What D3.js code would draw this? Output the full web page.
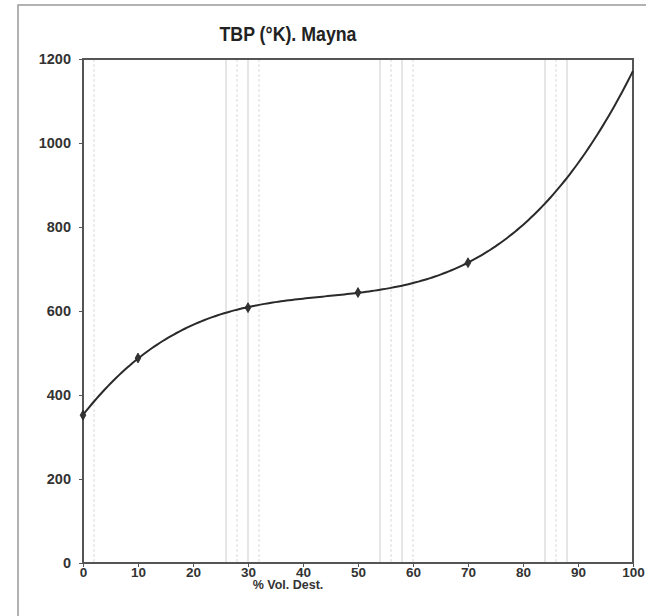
<!DOCTYPE html>
<html>
<head>
<meta charset="utf-8">
<script src="https://cdn.jsdelivr.net/npm/d3@7"></script>
<style>
  body { margin: 0; background: #fff; }
  svg { display: block; font-family: Arial, "Liberation Sans", sans-serif; }
</style>
</head>
<body>
<div id="chart"></div>
<script>
const volPct = [0, 10, 30, 50, 70];
const tbpK = [352, 488, 608, 644, 715];
const xTicks = [0, 10, 20, 30, 40, 50, 60, 70, 80, 90, 100];
const yTicks = [0, 200, 400, 600, 800, 1000, 1200];
// lineas verticales tenues del escaneo (en % vol)
const scanLines = [2, 26, 28, 30, 32, 54, 56, 58, 60, 84, 86, 88];

const W = 646, H = 616;
const margin = {left: 83, top: 59, right: 13, bottom: 53};

const svg = d3.select('#chart').append('svg')
    .attr('width', W)
    .attr('height', H);

// marco exterior
svg.append('rect')
    .attr('x', 18).attr('y', 5)
    .attr('width', 660).attr('height', 640)
    .attr('fill', 'none')
    .attr('stroke', '#999')
    .attr('stroke-width', 1.5);

const x = d3.scaleLinear().domain([0, 100]).range([margin.left, W - margin.right]);
const y = d3.scaleLinear().domain([0, 1200]).range([H - margin.bottom, margin.top]);

// lineas de escaneo
svg.selectAll('.scan')
    .data(scanLines)
    .enter()
    .append('line')
    .attr('x1', d => x(d)).attr('x2', d => x(d))
    .attr('y1', y(1200)).attr('y2', y(0))
    .attr('stroke', (d, i) => i % 2 ? '#cccccc' : '#dadada')
    .attr('stroke-width', 1)
    .attr('stroke-dasharray', (d, i) => i % 2 ? null : '3,2');

// titulo
svg.append('text')
    .attr('x', 288).attr('y', 41)
    .attr('text-anchor', 'middle')
    .attr('font-size', 20)
    .attr('font-weight', 'bold')
    .attr('fill', '#222')
    .attr('textLength', 137)
    .attr('lengthAdjust', 'spacingAndGlyphs')
    .text('TBP (°K). Mayna');

// ejes
const xAxis = svg.append('g')
    .attr('transform', `translate(0,${y(0)})`)
    .call(d3.axisBottom(x).tickValues(xTicks).tickSize(4).tickPadding(0).tickFormat(d3.format('d')));
const yAxis = svg.append('g')
    .attr('transform', `translate(${x(0)},0)`)
    .call(d3.axisLeft(y).tickValues(yTicks).tickSize(4).tickPadding(8).tickFormat(d3.format('d')));

[xAxis, yAxis].forEach(g => {
    g.select('.domain').remove();
    g.selectAll('line').attr('stroke', '#555');
    g.selectAll('text')
        .attr('font-family', 'Arial, "Liberation Sans", sans-serif')
        .attr('font-weight', 'bold')
        .attr('fill', '#333');
});
xAxis.selectAll('text').attr('font-size', 13.5);
yAxis.selectAll('text').attr('font-size', 14.5);

// recuadro del area de grafico
svg.append('rect')
    .attr('x', x(0)).attr('y', y(1200))
    .attr('width', x(100) - x(0))
    .attr('height', y(0) - y(1200))
    .attr('fill', 'none')
    .attr('stroke', '#555')
    .attr('stroke-width', 2);

// titulo eje x
svg.append('text')
    .attr('x', 288).attr('y', 589)
    .attr('text-anchor', 'middle')
    .attr('font-size', 12.5)
    .attr('font-weight', 'bold')
    .attr('fill', '#333')
    .text('% Vol. Dest.');

// linea de tendencia polinomica de grado 3 (minimos cuadrados)
function polyFit(xs, ys, deg) {
    const n = deg + 1;
    const A = [];
    for (let i = 0; i < n; i++) {
        const row = [];
        for (let j = 0; j < n; j++) row.push(d3.sum(xs, v => Math.pow(v, i + j)));
        row.push(d3.sum(xs, (v, k) => ys[k] * Math.pow(v, i)));
        A.push(row);
    }
    for (let c = 0; c < n; c++) {
        let p = c;
        for (let r = c + 1; r < n; r++) if (Math.abs(A[r][c]) > Math.abs(A[p][c])) p = r;
        [A[c], A[p]] = [A[p], A[c]];
        for (let r = 0; r < n; r++) {
            if (r === c) continue;
            const f = A[r][c] / A[c][c];
            for (let k = c; k <= n; k++) A[r][k] -= f * A[c][k];
        }
    }
    return A.map((row, i) => row[n] / row[i]);
}

const coef = polyFit(volPct, tbpK, 3);
const trend = v => coef.reduce((s, c, i) => s + c * Math.pow(v, i), 0);
const trendPts = d3.range(0, 100.01, 0.5).map(v => [v, trend(v)]);

svg.append('path')
    .datum(trendPts)
    .attr('fill', 'none')
    .attr('stroke', '#2a2a2a')
    .attr('stroke-width', 2)
    .attr('d', d3.line().x(d => x(d[0])).y(d => y(d[1])));

// puntos
svg.selectAll('.pt')
    .data(volPct)
    .enter()
    .append('path')
    .attr('transform', (d, i) => `translate(${x(d)},${y(tbpK[i])})`)
    .attr('d', d3.symbol().type(d3.symbolDiamond).size(28))
    .attr('fill', '#333')
    .attr('stroke', '#222')
    .attr('stroke-width', 0.8);
</script>
</body>
</html>
